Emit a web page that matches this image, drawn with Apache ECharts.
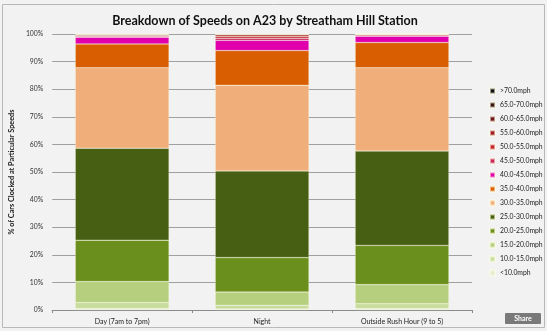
<!DOCTYPE html>
<html>
<head>
<meta charset="utf-8">
<script src="https://cdn.jsdelivr.net/npm/echarts@6/dist/echarts.min.js"></script>
<style>
html,body{margin:0;padding:0;background:#ffffff;}
#c{width:547px;height:331px;}
</style>
</head>
<body>
<div id="c"></div>
<script>
const categories = ['Day (7am to 7pm)', 'Night', 'Outside Rush Hour (9 to 5)'];
const speedBands = ['<10.0mph','10.0-15.0mph','15.0-20.0mph','20.0-25.0mph','25.0-30.0mph','30.0-35.0mph','35.0-40.0mph','40.0-45.0mph','45.0-50.0mph','50.0-55.0mph','55.0-60.0mph','60.0-65.0mph','65.0-70.0mph','>70.0mph'];
// percentages per band, order: Day, Night, Outside Rush Hour
const band_lt10   = [0.5, 0.4, 0.5];
const band_10_15  = [2.2, 1.3, 1.8];
const band_15_20  = [7.6, 4.8, 6.9];
const band_20_25  = [15.0, 12.5, 14.2];
const band_25_30  = [33.3, 31.4, 34.2];
const band_30_35  = [29.2, 31.0, 30.2];
const band_35_40  = [8.6, 12.6, 9.1];
const band_40_45  = [2.4, 3.7, 2.3];
const band_45_50  = [0.4, 0.8, 0.4];
const band_50_55  = [0.3, 0.7, 0.2];
const band_55_60  = [0.2, 0.5, 0.1];
const band_60_65  = [0.15, 0.2, 0.05];
const band_65_70  = [0.1, 0.05, 0.03];
const band_gt70   = [0.05, 0.05, 0.02];
const yTicks = [0,10,20,30,40,50,60,70,80,90,100];

const bandValues = [band_lt10, band_10_15, band_15_20, band_20_25, band_25_30, band_30_35, band_35_40, band_40_45, band_45_50, band_50_55, band_55_60, band_60_65, band_65_70, band_gt70];
const bandColors = ['#e3ebd3','#c8dc9e','#b5cf7e','#6b8f1c','#465f12','#f0ae7b','#d95e02','#e000ac','#c8285e','#c42230','#a01a24','#6c1420','#3c1414','#111111'];

const FONT = 'Lato, "Open Sans", sans-serif';
const chart = echarts.init(document.getElementById('c'), null, {renderer:'canvas'});
const series = speedBands.map((name, i) => ({
  name: name,
  type: 'bar',
  stack: 'total',
  barWidth: '67%',
  data: bandValues[i],
  itemStyle: {color: bandColors[i], borderColor: 'rgba(255,255,225,0.55)', borderWidth: 0.5},
  emphasis: {disabled: true}
}));

chart.setOption({
  animation: false,
  backgroundColor: '#f2f2f2',
  title: {
    text: 'Breakdown of Speeds on A23 by Streatham Hill Station',
    left: 260, top: 9, textAlign: 'center',
    textStyle: {fontFamily: FONT, fontWeight: 'bold', fontSize: 12.5, color: '#111'}
  },
  legend: {
    data: speedBands.slice().reverse(),
    orient: 'vertical',
    left: 484, top: 81,
    itemWidth: 5, itemHeight: 5, itemGap: 4,
    icon: 'rect',
    textStyle: {fontFamily: FONT, fontSize: 6.8, color: '#222', lineHeight: 10}
  },
  grid: {left: 48, right: 75, top: 34, bottom: 21, containLabel: false},
  xAxis: {
    type: 'category',
    data: categories,
    axisLine: {lineStyle: {color: '#8a8a8a', width: 1}},
    axisTick: {show: true, length: 3, lineStyle: {color: '#8a8a8a'}},
    axisLabel: {fontFamily: FONT, fontSize: 7, color: '#222', margin: 8}
  },
  yAxis: {
    type: 'value',
    min: yTicks[0], max: yTicks[yTicks.length-1], interval: 10,
    name: '% of Cars Clocked at Particular Speeds',
    nameLocation: 'middle', nameGap: 30,
    nameTextStyle: {fontFamily: FONT, fontSize: 7.3, fontWeight: 'bold', color: '#222'},
    axisLine: {show: false},
    axisTick: {show: false},
    axisLabel: {fontFamily: FONT, fontSize: 6.8, color: '#333', margin: 9, formatter: '{value}%'},
    splitLine: {lineStyle: {color: '#a0a0a0', width: 1}}
  },
  series: series,
  graphic: [
    {type: 'rect', shape: {x: 2.5, y: 4.5, width: 542, height: 323}, style: {fill: 'none', stroke: '#b8b8b8', lineWidth: 1}, z: 0},
    {type: 'rect', shape: {x: 505, y: 313, width: 36, height: 11, r: 1}, style: {fill: '#7a7a7a'}, z: 10},
    {type: 'text', x: 523, y: 318.5, style: {text: 'Share', fill: '#ffffff', font: 'bold 7px ' + FONT, textAlign: 'center', textVerticalAlign: 'middle'}, z: 11}
  ]
});
</script>
</body>
</html>
